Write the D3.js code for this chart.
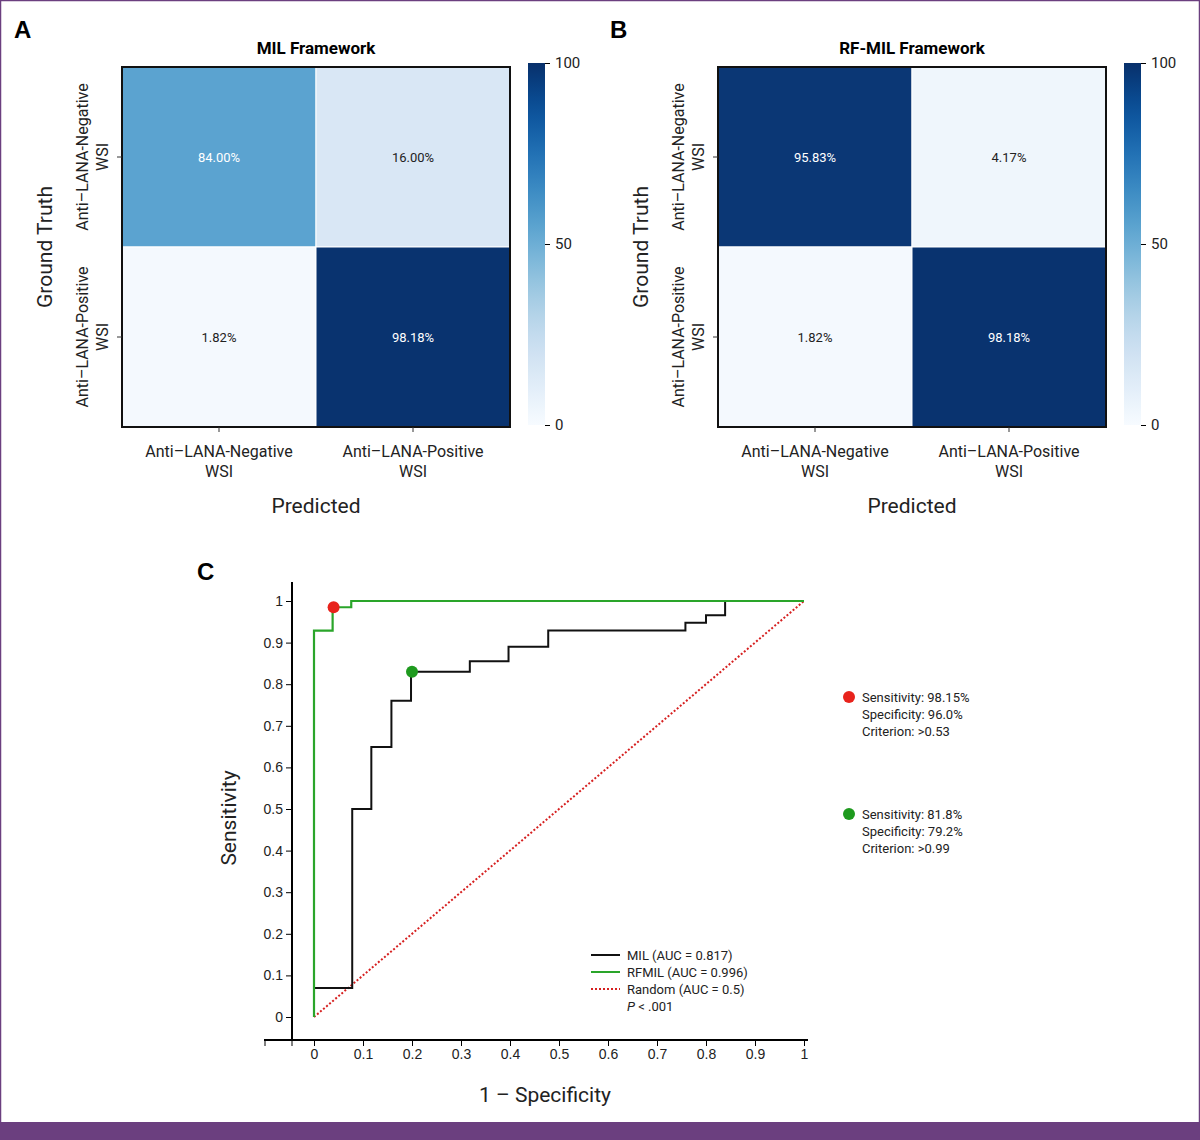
<!DOCTYPE html>
<html><head><meta charset="utf-8">
<script src="https://cdn.jsdelivr.net/npm/d3@7"></script>
<style>body{margin:0;background:#fff}svg{display:block;font-family:Roboto,"Open Sans",sans-serif}</style>
</head><body>
<svg id="chart" width="1200" height="1140"></svg>
<script>
// DATA
const classes = ['Anti\u2013LANA-Negative|WSI', 'Anti\u2013LANA-Positive|WSI'];
const rowClasses = ['Anti\u2013LANA-Negative|WSI', 'Anti\u2013LANA-Positive|WSI'];
const milMatrix = [[84.00, 16.00], [1.82, 98.18]];
const rfmilMatrix = [[95.83, 4.17], [1.82, 98.18]];
const colorTicks = [0, 50, 100];
const milFpr = [0, 0, 0.078, 0.078, 0.117, 0.117, 0.158, 0.158, 0.198, 0.198, 0.318, 0.318, 0.397, 0.397, 0.478, 0.478, 0.758, 0.758, 0.8, 0.8, 0.839, 0.839, 1];
const milTpr = [0, 0.07, 0.07, 0.5, 0.5, 0.649, 0.649, 0.76, 0.76, 0.83, 0.83, 0.855, 0.855, 0.89, 0.89, 0.929, 0.929, 0.948, 0.948, 0.966, 0.966, 1, 1];
const rfFpr = [0, 0, 0.038, 0.038, 0.076, 0.076, 1];
const rfTpr = [0, 0.929, 0.929, 0.985, 0.985, 1, 1];
const cutPoints = [
  {x: 0.04, y: 0.985, c: '#e8231c', lines: ['Sensitivity: 98.15%', 'Specificity: 96.0%', 'Criterion: >0.53']},
  {x: 0.2, y: 0.83, c: '#1e9a1e', lines: ['Sensitivity: 81.8%', 'Specificity: 79.2%', 'Criterion: >0.99']}
];
const rocTicks = [0, 0.1, 0.2, 0.3, 0.4, 0.5, 0.6, 0.7, 0.8, 0.9, 1];

const svg = d3.select('#chart');
const purple = '#6b3f7f';
svg.append('rect').attr('x', 0.5).attr('y', 0.5).attr('width', 1199).attr('height', 1139).attr('fill', 'none').attr('stroke', purple).attr('stroke-width', 1.5);
svg.append('rect').attr('x', 0).attr('y', 1122).attr('width', 1200).attr('height', 18).attr('fill', purple);

const color = d3.scaleLinear()
  .domain([0, 16, 50, 84, 95, 100])
  .range(['#f7fbff', '#d9e7f5', '#7db8da', '#5ba3d0', '#0b3877', '#08306b'])
  .clamp(true);

function heatmap(ox, letter, title, matrix) {
  const g = svg.append('g');
  const x0 = ox, y0 = 67, w = 388, h = 360;
  g.append('text').attr('x', ox - 108).attr('y', 38).attr('font-size', 24).attr('font-weight', 700).attr('font-family', 'Arial,Liberation Sans').text(letter);
  g.append('text').attr('x', x0 + w / 2).attr('y', 54).attr('text-anchor', 'middle').attr('font-size', 17).attr('font-weight', 700).text(title);
  const x = d3.scaleBand().domain([0, 1]).range([x0, x0 + w]);
  const y = d3.scaleBand().domain([0, 1]).range([y0, y0 + h]);
  matrix.forEach((row, i) => row.forEach((v, j) => {
    g.append('rect').attr('x', x(j)).attr('y', y(i)).attr('width', x.bandwidth()).attr('height', y.bandwidth())
      .attr('fill', color(v)).attr('stroke', '#fff').attr('stroke-width', 1);
    g.append('text').attr('x', x(j) + x.bandwidth() / 2).attr('y', y(i) + y.bandwidth() / 2 + 5)
      .attr('text-anchor', 'middle').attr('font-size', 13).attr('fill', v > 60 ? '#fff' : '#222')
      .text(v.toFixed(2) + '%');
  }));
  g.append('rect').attr('x', x0).attr('y', y0).attr('width', w).attr('height', h).attr('fill', 'none').attr('stroke', '#111').attr('stroke-width', 2);
  classes.forEach((c, j) => {
    const cx = x(j) + x.bandwidth() / 2;
    g.append('line').attr('x1', cx).attr('x2', cx).attr('y1', y0 + h).attr('y2', y0 + h + 5).attr('stroke', '#333');
    c.split('|').forEach((s, k) => g.append('text').attr('x', cx).attr('y', y0 + h + 30 + k * 20).attr('text-anchor', 'middle').attr('font-size', 16).attr('fill', '#222').text(s));
  });
  rowClasses.forEach((c, i) => {
    const cy = y(i) + y.bandwidth() / 2;
    g.append('line').attr('x1', x0 - 5).attr('x2', x0).attr('y1', cy).attr('y2', cy).attr('stroke', '#333');
    c.split('|').forEach((s, k) => g.append('text').attr('transform', `translate(${x0 - 34 + k * 20},${cy}) rotate(-90)`).attr('text-anchor', 'middle').attr('font-size', 16).attr('fill', '#222').text(s));
  });
  g.append('text').attr('transform', `translate(${x0 - 70},${y0 + h / 2}) rotate(-90)`).attr('text-anchor', 'middle').attr('font-size', 21).attr('fill', '#222').text('Ground Truth');
  g.append('text').attr('x', x0 + w / 2).attr('y', 513).attr('text-anchor', 'middle').attr('font-size', 21).attr('fill', '#222').text('Predicted');
  // colorbar
  const cbx = x0 + w + 18, cby0 = 63, cbh = 362;
  const cy = d3.scaleLinear().domain([0, 100]).range([cby0 + cbh, cby0]);
  const gid = 'grad' + letter;
  const grad = svg.append('defs').append('linearGradient').attr('id', gid).attr('x1', 0).attr('y1', 1).attr('x2', 0).attr('y2', 0);
  d3.range(0, 1.01, 0.05).forEach(t => grad.append('stop').attr('offset', t).attr('stop-color', d3.interpolateBlues(t)));
  g.append('rect').attr('x', cbx).attr('y', cby0).attr('width', 17).attr('height', cbh).attr('fill', `url(#${gid})`);
  g.append('g').attr('transform', `translate(${cbx + 17},0)`)
    .call(d3.axisRight(cy).tickValues(colorTicks).tickSize(5).tickPadding(5))
    .call(a => a.select('.domain').remove())
    .call(a => a.selectAll('text').attr('font-size', 15).attr('fill', '#222').attr('font-family', 'Roboto'));
}
heatmap(122, 'A', 'MIL Framework', milMatrix);
heatmap(718, 'B', 'RF-MIL Framework', rfmilMatrix);

// ROC
const rx = d3.scaleLinear().domain([0, 1]).range([314, 804]);
const ry = d3.scaleLinear().domain([0, 1]).range([1017, 601]);
const rg = svg.append('g');
rg.append('text').attr('x', 197).attr('y', 580).attr('font-size', 24).attr('font-weight', 700).attr('font-family', 'Arial,Liberation Sans').text('C');
rg.append('g').attr('transform', 'translate(0,1040)')
  .call(d3.axisBottom(rx).tickValues(rocTicks).tickFormat(d3.format('')).tickSize(6).tickSizeOuter(0))
  .call(a => a.select('.domain').attr('d', 'M264,0H808').attr('stroke-width', 2))
  .call(a => a.selectAll('text').attr('font-size', 14).attr('fill', '#222'));
rg.append('line').attr('x1', 292).attr('x2', 292).attr('y1', 1040).attr('y2', 1046).attr('stroke', '#000');
rg.append('line').attr('x1', 265).attr('x2', 265).attr('y1', 1040).attr('y2', 1046).attr('stroke', '#000');
rg.append('g').attr('transform', 'translate(292,0)')
  .call(d3.axisLeft(ry).tickValues(rocTicks).tickFormat(d3.format('')).tickSize(6).tickSizeOuter(0))
  .call(a => a.select('.domain').attr('d', 'M0,582V1040').attr('stroke-width', 2))
  .call(a => a.selectAll('text').attr('font-size', 14).attr('fill', '#222'));
rg.append('text').attr('transform', 'translate(236,818) rotate(-90)').attr('text-anchor', 'middle').attr('font-size', 21).attr('fill', '#222').text('Sensitivity');
rg.append('text').attr('x', 545).attr('y', 1102).attr('text-anchor', 'middle').attr('font-size', 21).attr('fill', '#222').text('1 \u2013 Specificity');

const line = d3.line().x(d => rx(d[0])).y(d => ry(d[1]));
rg.append('path').attr('d', line([[0, 0], [1, 1]])).attr('fill', 'none').attr('stroke', '#d62020').attr('stroke-width', 2).attr('stroke-dasharray', '2,2');
rg.append('path').attr('d', line(milFpr.map((f, i) => [f, milTpr[i]]))).attr('fill', 'none').attr('stroke', '#111').attr('stroke-width', 2);
rg.append('path').attr('d', line(rfFpr.map((f, i) => [f, rfTpr[i]]))).attr('fill', 'none').attr('stroke', '#2aa52a').attr('stroke-width', 2.2);
cutPoints.forEach((p, i) => {
  rg.append('circle').attr('cx', rx(p.x)).attr('cy', ry(p.y)).attr('r', 6).attr('fill', p.c);
  const ly = 697 + i * 117;
  rg.append('circle').attr('cx', 849).attr('cy', ly).attr('r', 6).attr('fill', p.c);
  p.lines.forEach((s, k) => rg.append('text').attr('x', 862).attr('y', ly + 5 + k * 17).attr('font-size', 13).attr('fill', '#222').text(s));
});
const legend = [
  {t: 'MIL (AUC = 0.817)', c: '#111', d: null},
  {t: 'RFMIL (AUC = 0.996)', c: '#2aa52a', d: null},
  {t: 'Random (AUC = 0.5)', c: '#d62020', d: '2,2'}
];
legend.forEach((l, i) => {
  const yy = 955 + i * 17;
  rg.append('line').attr('x1', 591).attr('x2', 620).attr('y1', yy).attr('y2', yy).attr('stroke', l.c).attr('stroke-width', 2).attr('stroke-dasharray', l.d);
  rg.append('text').attr('x', 627).attr('y', yy + 5).attr('font-size', 13).attr('fill', '#222').text(l.t);
});
const pt = rg.append('text').attr('x', 627).attr('y', 1011).attr('font-size', 13).attr('fill', '#222');
pt.append('tspan').attr('font-style', 'italic').text('P');
pt.append('tspan').text(' < .001');
</script>
</body></html>
